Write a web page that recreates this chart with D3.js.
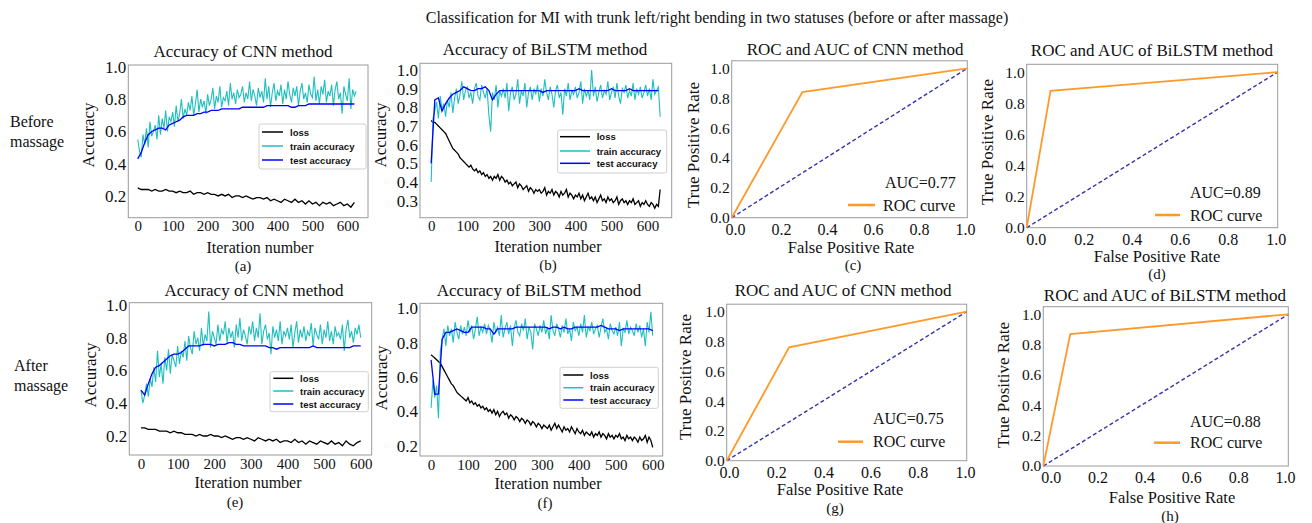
<!DOCTYPE html>
<html lang="en">
<head>
<meta charset="utf-8">
<style>
    body { margin: 0; background: #fff; }
    text { font-family: "Liberation Serif", "Times New Roman", serif; fill: #111; }
    .legtxt { font-family: "Liberation Sans", Arial, sans-serif; font-weight: bold; font-size: 9.5px; }
</style>
</head>
<body>
<svg width="1312" height="523"></svg>
<script src="https://d3js.org/d3.v7.min.js"></script>
<script>

// ---- data (accuracy / loss in hundredths, one value every `step` iterations) ----

// (a) CNN, before massage
var cnnBeforeTrain = [55,48,44,58,52,62,50,66,57,60, 64,55,70,58,68,62,73,60,69,66, 72,63,76,66,71,80,68,74,70,78,
    73,82,70,77,86,72,80,75,79,71, 83,76,80,87,74,82,78,88,75,81, 79,85,76,90,80,84,77,86,81,83,
    88,78,84,80,91,79,86,82,76,87, 81,85,78,93,80,88,75,84,90,79, 85,82,89,77,86,80,91,83,78,87,
    82,88,76,85,90,80,84,78,89,83, 81,94,79,86,77,88,83,92,78,85, 82,89,76,86,91,80,84,71,88,83,
    79,93,74,86,82,85];
var cnnBeforeTest = [43,47,53,58,60,61,62,62,61,64, 65,66,67,69,70,70,70,71,71,72, 72,73,73,73,74,74,74,74,74,74,
    75,75,75,75,75,75,75,76,76,76, 76,76,76,76,75,75,76,76,76,77, 77,77,77,77,77,77,77,77,77,77, 77,77,77];
var cnnBeforeLoss = [25,24,24,24,23,24,23,23,24,23, 23,22,23,22,22,23,21,22,22,21, 22,21,21,20,21,20,21,19,20,20,
    19,20,19,18,19,19,18,19,17,18, 17,16,18,17,16,18,16,17,15,17, 15,16,14,16,15,16,14,15,16,14, 15,13,16];

// (b) BiLSTM, before massage
var lstmBeforeTrain = [40,74,78,83,74,86,79,82,75,84, 80,88,77,85,90,82,87,94,84,89, 91,85,88,82,90,93,86,84,92,88,
    85,90,76,67,88,84,92,80,89,86, 90,85,93,78,88,91,84,87,95,82, 89,86,93,80,88,91,84,90,87,92,
    83,90,86,95,88,84,91,87,80,89, 92,85,88,76,90,86,93,84,89,87, 91,85,88,94,82,90,86,89,84,100,
    86,91,83,88,92,85,89,87,94,84, 88,91,85,93,86,82,90,88,92,85, 89,86,93,84,90,87,91,85,88,92,
    86,90,84,95,87,89,91,75];
var lstmBeforeTest = [50,84,85,78,82,85,87,88,89,91, 90,89,89,90,90,91,89,84,87,89, 89,89,89,89,89,89,89,89,89,89,
    89,88,89,89,89,89,89,89,89,89, 89,90,89,89,89,89,89,89,89,89, 90,89,89,89,89,90,89,89,89,89, 89,89,89,89];
var lstmBeforeLoss = [73,72,72,71,70,69,68,67,66,64, 62,60,58,57,56,55,53,52,51,50, 49,48,49,47,46,47,45,46,44,45,
    43,44,42,43,41,43,42,44,41,43, 42,40,41,39,40,38,39,40,37,39, 38,36,37,38,35,37,36,34,36,35,
    36,34,35,37,33,35,34,36,33,35, 34,32,35,33,34,36,32,34,33,31, 33,32,34,31,33,30,32,34,31,32,
    30,32,29,31,33,30,31,29,32,30, 31,29,30,32,28,30,31,29,30,28, 30,29,31,28,29,30,27,29,28,30,
    28,27,29,28,26,28,27,36];

// (e) CNN, after massage
var cnnAfterTrain = [48,40,45,52,44,55,50,62,53,72, 56,64,52,68,60,73,58,70,66,62, 75,64,72,68,78,66,81,74,70,84,
    76,80,72,86,75,82,78,96,74,84, 80,76,88,78,85,82,90,77,86,80, 84,74,88,80,92,78,85,81,76,87,
    82,90,78,86,80,95,76,84,88,79, 83,70,87,80,85,78,90,76,84,81, 86,79,88,74,83,90,77,85,80,87,
    78,84,81,89,75,86,82,79,88,76, 85,80,90,78,84,76,87,81,83,79, 88,72,85,91,80,84,77,86,82,88, 80];
var cnnAfterTest = [48,45,52,58,62,63,65,67,69,70, 70,71,73,75,75,75,75,76,76,76, 75,76,76,76,77,77,76,76,75,75,
    75,75,75,75,75,74,74,73,74,74, 74,74,74,74,74,74,74,75,74,74, 74,74,74,74,74,74,74,74,75,75, 75];
var cnnAfterLoss = [25,25,24,24,24,23,23,23,22,23, 22,22,21,21,21,20,21,20,20,21, 20,20,19,20,19,18,19,19,18,19,
    18,17,19,18,17,18,17,18,16,17, 17,16,18,16,17,15,17,16,15,17, 16,15,17,15,16,14,17,15,14,16, 17];

// (f) BiLSTM, after massage
var lstmAfterTrain = [42,58,48,55,36,75,82,88,78,90, 84,88,80,92,86,82,90,85,89,84, 93,86,90,82,88,95,84,89,86,91,
    85,90,87,80,92,86,89,84,96,83, 88,92,85,90,78,89,93,86,84,91, 87,94,82,89,86,76,91,88,84,90,
    86,93,85,89,82,96,87,84,91,88, 83,90,86,94,85,88,81,92,87,89, 84,91,86,96,83,89,87,92,85,88,
    90,83,89,94,86,88,82,91,87,85, 89,84,92,78,88,86,93,85,89,87, 84,91,86,90,83,88,78,92,86,98, 84];
var lstmAfterTest = [70,50,50,82,86,86,87,88,87,86, 86,89,89,89,89,88,88,85,88,88, 88,88,88,89,89,89,89,89,89,89,
    89,89,88,89,89,88,89,88,88,89, 89,89,89,89,89,89,90,89,88,88, 88,87,88,88,88,88,88,88,88,88, 87];
var lstmAfterLoss = [73,72,71,70,69,68,66,64,62,60, 58,56,55,53,51,50,49,48,47,46, 48,45,46,44,45,43,44,42,43,41,
    42,40,41,39,41,38,40,37,39,40, 38,39,36,38,37,35,37,36,34,36, 35,33,35,34,32,34,33,31,33,32,
    30,32,31,30,32,29,31,33,30,32, 30,28,31,29,30,28,31,29,27,30, 28,27,29,26,28,27,26,28,25,27,
    26,28,25,27,26,24,27,25,26,24, 26,25,27,24,25,23,26,24,25,23, 25,24,22,25,23,24,26,22,25,23, 19];

// ROC curves
var rocCnnBeforeFpr = [0, 0.30, 1], rocCnnBeforeTpr = [0, 0.84, 1];
var rocLstmBeforeFpr = [0, 0.095, 1], rocLstmBeforeTpr = [0, 0.88, 1];
var rocCnnAfterFpr = [0, 0.26, 1], rocCnnAfterTpr = [0, 0.76, 1];
var rocLstmAfterFpr = [0, 0.11, 1], rocLstmAfterTpr = [0, 0.87, 1];
var aucLabels = ["AUC=0.77", "AUC=0.89", "AUC=0.75", "AUC=0.88"];

// ticks
var iterTicks = [0, 100, 200, 300, 400, 500, 600];
var accTicks = [0.2, 0.4, 0.6, 0.8, 1.0];
var accTicksB = [0.3, 0.4, 0.5, 0.6, 0.7, 0.8, 0.9, 1.0];
var rateTicks = [0, 0.2, 0.4, 0.6, 0.8, 1.0];
var seriesNames = ["loss", "train accuracy", "test accuracy"];
var seriesColors = ["#000", "#1fbfbf", "#0000ff"];

// ---- layout ----
var svg = d3.select("svg");
var fmt1 = d3.format(".1f");

svg.append("text").attr("x", 717).attr("y", 17).attr("text-anchor", "middle")
    .attr("dominant-baseline", "central").style("font-size", "16px")
    .text("Classification for MI with trunk left/right bending in two statuses (before or after massage)");

[["Before", 10, 121.7], ["massage", 10, 141.7], ["After", 14, 365], ["massage", 14, 385]].forEach(function (r) {
    svg.append("text").attr("x", r[1]).attr("y", r[2]).attr("dominant-baseline", "central")
        .style("font-size", "16px").text(r[0]);
});

var accPanels = [
    { f: [128.3, 65, 368, 217.7], xd: [-27, 659], yd: [0.065, 1.012], yt: accTicks,
      data: [cnnBeforeLoss, cnnBeforeTrain, cnnBeforeTest], steps: [10, 5, 10],
      title: "Accuracy of CNN method", tp: [243, 51], xl: [260, 247.5], sub: ["(a)", 243, 266], yl: [88, 135],
      leg: [259, 124, 107, 45], rows: [132, 146, 160], lx: [262, 283, 290] },
    { f: [420, 63.3, 671.7, 217.7], xd: [-31, 667], yd: [0.209, 1.036], yt: accTicksB,
      data: [lstmBeforeLoss, lstmBeforeTrain, lstmBeforeTest], steps: [5, 5, 10],
      title: "Accuracy of BiLSTM method", tp: [545, 49], xl: [548, 246], sub: ["(b)", 548, 264.5], yl: [380, 135],
      leg: [557.7, 130, 109, 43], rows: [136.7, 151, 163.3], lx: [560, 590, 596.7] },
    { f: [129.3, 302.7, 371.7, 455], xd: [-32, 630], yd: [0.084, 1.014], yt: accTicks,
      data: [cnnAfterLoss, cnnAfterTrain, cnnAfterTest], steps: [10, 5, 10],
      title: "Accuracy of CNN method", tp: [254, 290], xl: [248, 482.5], sub: ["(e)", 235, 501.5], yl: [90, 375],
      leg: [270, 371.7, 98.3, 40], rows: [378.3, 391, 404], lx: [273.3, 293.3, 300] },
    { f: [420, 303.3, 662.7, 456], xd: [-30, 627], yd: [0.14, 1.029], yt: accTicks,
      data: [lstmAfterLoss, lstmAfterTrain, lstmAfterTest], steps: [5, 5, 10],
      title: "Accuracy of BiLSTM method", tp: [539, 290.7], xl: [548, 483.5], sub: ["(f)", 545, 502.5], yl: [381.7, 378],
      leg: [560, 367.3, 98.3, 41], rows: [375, 387.7, 400], lx: [563.3, 583.3, 590] }
];

// lab: where the x tick labels sit (in the picture they are shifted off the frame in (d) and (h))
var rocPanels = [
    { f: [731.7, 60.8, 967.3, 217.7], fpr: rocCnnBeforeFpr, tpr: rocCnnBeforeTpr, auc: aucLabels[0],
      title: "ROC and AUC of CNN method", tp: [855, 49], xl: [851, 247], sub: ["(c)", 853, 265], yl: [693, 145],
      aucAt: [885, 182], lg: [848, 875, 883, 205], lab: [735, 965] },
    { f: [1026.7, 64.3, 1277.7, 227.7], fpr: rocLstmBeforeFpr, tpr: rocLstmBeforeTpr, auc: aucLabels[1],
      title: "ROC and AUC of BiLSTM method", tp: [1152, 50], xl: [1157, 256], sub: ["(d)", 1157, 274], yl: [987, 142],
      aucAt: [1190, 192], lg: [1155, 1180, 1190, 215], lab: [1035.7, 1275.7] },
    { f: [726.7, 304.2, 966.7, 460.7], fpr: rocCnnAfterFpr, tpr: rocCnnAfterTpr, auc: aucLabels[2],
      title: "ROC and AUC of CNN method", tp: [843, 290], xl: [840, 489], sub: ["(g)", 835, 507.5], yl: [685, 377],
      aucAt: [873, 418], lg: [838, 863, 873, 441.7], lab: [729, 965] },
    { f: [1043.3, 306.7, 1288.3, 466], fpr: rocLstmAfterFpr, tpr: rocLstmAfterTpr, auc: aucLabels[3],
      title: "ROC and AUC of BiLSTM method", tp: [1165, 295], xl: [1172, 497.5], sub: ["(h)", 1170, 515.5], yl: [1003, 385],
      aucAt: [1190, 421.7], lg: [1154, 1180, 1190, 442.7], lab: [1050.7, 1285] }
];

function label(g, x, y, txt, size, rot) {
    var t = g.append("text").attr("text-anchor", "middle").attr("dominant-baseline", "central")
        .style("font-size", size + "px").text(txt);
    if (rot) t.attr("transform", "translate(" + x + "," + y + ") rotate(-90)");
    else t.attr("x", x).attr("y", y);
    return t;
}

function frameAndAxes(g, p, x, y, xt, yt, xf, opt) {
    g.append("g").attr("transform", "translate(0," + p.f[3] + ")")
        .call(d3.axisBottom(x).tickValues(xt).tickFormat(xf).tickSize(0).tickPadding(opt.xpad))
        .call(function (a) { a.select(".domain").remove(); a.attr("font-family", null); })
        .selectAll("text").style("font-size", opt.xs + "px").attr("fill", "#111");
    g.append("g").attr("transform", "translate(" + p.f[0] + ",0)")
        .call(d3.axisLeft(y).tickValues(yt).tickFormat(fmt1).tickSize(0).tickPadding(2))
        .call(function (a) { a.select(".domain").remove(); a.attr("font-family", null); })
        .selectAll("text").style("font-size", opt.ys + "px").attr("fill", "#111");
    g.append("rect").attr("x", p.f[0]).attr("y", p.f[1])
        .attr("width", p.f[2] - p.f[0]).attr("height", p.f[3] - p.f[1])
        .attr("fill", "none").attr("stroke", "#9a9a9a").attr("stroke-width", 1);
}

accPanels.forEach(function (p) {
    var g = svg.append("g");
    var x = d3.scaleLinear().domain(p.xd).range([p.f[0], p.f[2]]);
    var y = d3.scaleLinear().domain(p.yd).range([p.f[3], p.f[1]]);
    frameAndAxes(g, p, x, y, iterTicks, p.yt, d3.format("d"), { xpad: 3, xs: 15, ys: 17 });

    p.data.forEach(function (vals, k) {
        var step = p.steps[k];
        var line = d3.line().x(function (d, i) { return x(i * step); }).y(function (d) { return y(d / 100); });
        g.append("path").datum(vals).attr("d", line).attr("fill", "none")
            .attr("stroke", seriesColors[k]).attr("stroke-width", k === 1 ? 1.1 : 1.3);
    });

    g.append("rect").attr("x", p.leg[0]).attr("y", p.leg[1]).attr("width", p.leg[2]).attr("height", p.leg[3])
        .attr("rx", 2).attr("fill", "#fff").attr("fill-opacity", 0.85).attr("stroke", "#d0d0d0");
    seriesNames.forEach(function (n, k) {
        g.append("line").attr("x1", p.lx[0]).attr("x2", p.lx[1]).attr("y1", p.rows[k]).attr("y2", p.rows[k])
            .attr("stroke", seriesColors[k]).attr("stroke-width", 1.5);
        g.append("text").attr("class", "legtxt").attr("x", p.lx[2]).attr("y", p.rows[k])
            .attr("dominant-baseline", "central").text(n);
    });

    label(g, p.tp[0], p.tp[1], p.title, 17);
    label(g, p.xl[0], p.xl[1], "Iteration number", 16);
    label(g, p.sub[1], p.sub[2], p.sub[0], 15);
    label(g, p.yl[0], p.yl[1], "Accuracy", 17, true);
});

rocPanels.forEach(function (p) {
    var g = svg.append("g");
    var x = d3.scaleLinear().domain([0, 1]).range([p.f[0], p.f[2]]);
    var xLab = d3.scaleLinear().domain([0, 1]).range(p.lab);
    var y = d3.scaleLinear().domain([0, 1.05]).range([p.f[3], p.f[1]]);
    frameAndAxes(g, p, xLab, y, rateTicks, rateTicks, fmt1, { xpad: 6, xs: 16, ys: 15.5 });

    g.append("path").datum([0, 1]).attr("fill", "none").attr("stroke", "#3333aa").attr("stroke-width", 1.4)
        .attr("stroke-dasharray", "4,2.5")
        .attr("d", d3.line().x(function (d) { return x(d); }).y(function (d) { return y(d); }));
    g.append("path").datum(d3.range(p.fpr.length)).attr("fill", "none").attr("stroke", "#ff9a2a").attr("stroke-width", 1.8)
        .attr("d", d3.line().x(function (i) { return x(p.fpr[i]); }).y(function (i) { return y(p.tpr[i]); }));

    g.append("text").attr("x", p.aucAt[0]).attr("y", p.aucAt[1]).attr("dominant-baseline", "central")
        .style("font-size", "16px").text(p.auc);
    g.append("line").attr("x1", p.lg[0]).attr("x2", p.lg[1]).attr("y1", p.lg[3]).attr("y2", p.lg[3])
        .attr("stroke", "#ff9a2a").attr("stroke-width", 2.5);
    g.append("text").attr("x", p.lg[2]).attr("y", p.lg[3]).attr("dominant-baseline", "central")
        .style("font-size", "16px").text("ROC curve");

    label(g, p.tp[0], p.tp[1], p.title, 17);
    label(g, p.xl[0], p.xl[1], "False Positive Rate", 16.5);
    label(g, p.sub[1], p.sub[2], p.sub[0], 15);
    label(g, p.yl[0], p.yl[1], "True Positive Rate", 17, true);
});

</script>
</body>
</html>
